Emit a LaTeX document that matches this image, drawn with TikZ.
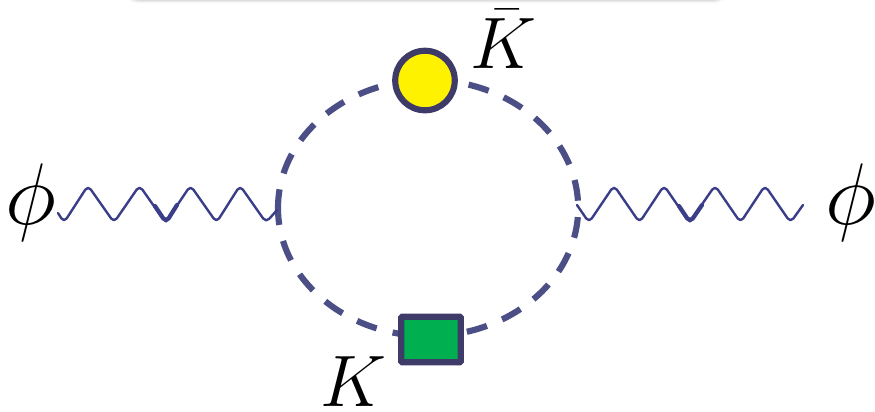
\documentclass[tikz,border=0pt]{standalone}
\usepackage{amsmath,amssymb}
\usetikzlibrary{calc}
\definecolor{loopblue}{HTML}{4B4F86}
\definecolor{waveblue}{HTML}{3A3D88}
\definecolor{rimblue}{HTML}{3F3B69}
\definecolor{insgreen}{HTML}{00B050}
\tikzset{
    loopline/.style={loopblue, line width=1.75pt, dash pattern=on 5.97pt off 4.67pt, dash phase=1.14pt},
    wave/.style={waveblue, line width=0.68pt, line cap=round, line join=round, rounded corners=1.4pt},
    wavekink/.style={waveblue, line width=1.2pt, line cap=round, rounded corners=1.4pt},
    ins/.style={draw=rimblue, line width=1.75pt, inner sep=0pt},
    leglabel/.style={inner sep=0pt, font=\fontsize{24.5}{26}\selectfont},
    momlabel/.style={inner sep=0pt, font=\fontsize{22}{24}\selectfont}
}
\begin{document}
\begin{tikzpicture}[x=0.01cm, y=-0.01cm]
        \useasboundingbox (0,0) rectangle (875,411);

        % shadow of the box above
        \foreach \d/\o in {4/0.03, 3/0.04, 2/0.06, 1/0.07, 0/0.10}
            \fill[black, opacity=\o, rounded corners=3pt] (130-\d,-10) rectangle (722+\d,\d-1);

        % loop, starts at the west end
        \coordinate (w) at (278,208);
        \draw[loopline] (w) arc [start angle=180, end angle=540, x radius=1.5cm, y radius=1.28cm];

        \node[ins, circle, fill=yellow, minimum size=0.595cm] (kbarins) at (425,80.5) {};
        \node[ins, rectangle, fill=insgreen, rounded corners=0.3pt, minimum width=0.595cm, minimum height=0.455cm] (kins) at (431,339.5) {};

        % left wave
        \coordinate (l0) at (58,213);
        \coordinate (l1) at (277,210);
        \draw[wave] (l0) -- (64,222.5)
            \foreach \x in {88,139.5,190.5,240} { -- (\x,185.5) -- (\x+26,222.5) } -- (l1);
        \draw[wavekink] (155,206) -- (166,222.5) -- (177,205);

        % right wave
        \coordinate (r0) at (577,205);
        \coordinate (r1) at (803,205);
        \draw[wave] (r0) -- (589,222.5)
            \foreach \x in {614,664,715,765} { -- (\x,185.5) -- (\x+25.5,222.5) } -- (r1);
        \draw[wavekink] (679,206) -- (690,222.5) -- (702,205);

        \node[leglabel] (phil) at (31,203) {$\phi$};
        \node[leglabel] (phir) at (851,203) {$\phi$};
        \node[momlabel] (kbar) at (503.5,39) {$\bar{K}$};
        \node[momlabel] (k) at (353,382) {$K$};
\end{tikzpicture}
\end{document}
